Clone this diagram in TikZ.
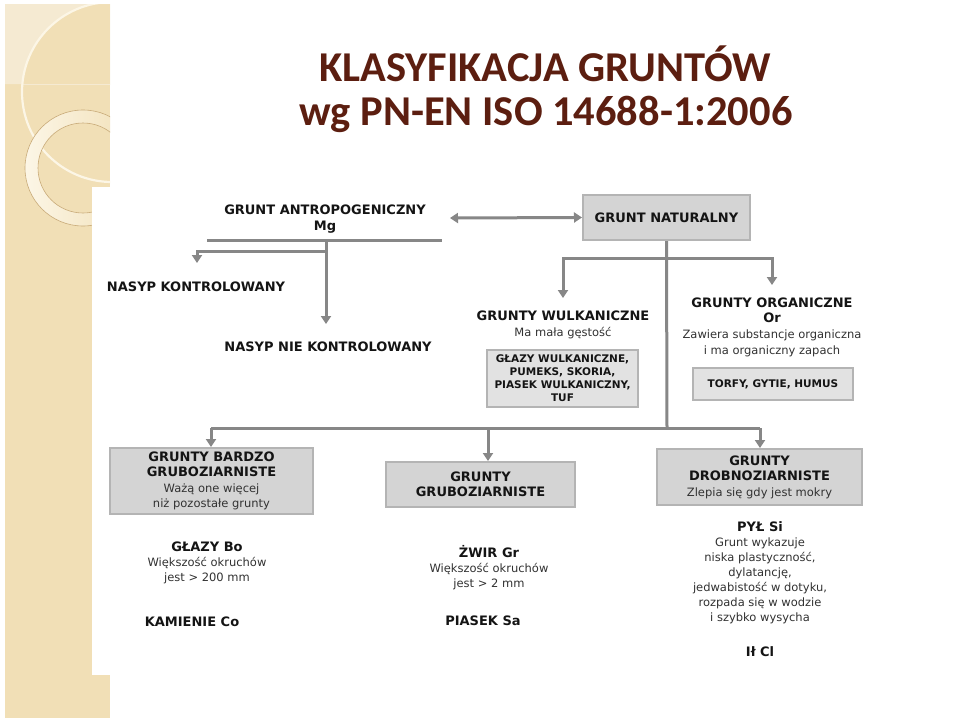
\documentclass[tikz,border=0pt]{standalone}
\usepackage{fontspec}
\setmainfont{DejaVu Sans}
\newfontfamily\titlefont{Carlito}
\usetikzlibrary{arrows.meta}
\definecolor{beige}{RGB}{241,223,182}
\definecolor{beigelight}{RGB}{245,234,210}
\definecolor{cream}{RGB}{252,246,230}
\definecolor{ringtan}{RGB}{200,170,120}
\definecolor{titlecol}{RGB}{92,30,16}
\definecolor{boxgray}{RGB}{212,212,212}
\definecolor{boxlight}{RGB}{226,226,226}
\definecolor{boxedge}{RGB}{180,180,180}
\definecolor{linegray}{RGB}{135,135,135}
\definecolor{textcol}{RGB}{20,20,20}
\definecolor{subcol}{RGB}{50,50,50}
\begin{document}
\begin{tikzpicture}[x=1pt,y=-1pt,
  titlestyle/.style={font=\titlefont\bfseries\fontsize{42.5}{44}\selectfont, text=titlecol, inner sep=0},
  txt/.style={align=center, inner sep=0, text=textcol, font=\fontsize{13}{15.5}\selectfont},
  smalltxt/.style={align=center, inner sep=0, text=textcol, font=\fontsize{10.5}{13}\selectfont},
  bigbox/.style={draw=boxedge, fill=boxgray, line width=2pt, inner sep=0},
  smallbox/.style={draw=boxedge, fill=boxlight, line width=2pt, inner sep=0},
  conn/.style={draw=linegray, line width=3pt},
  arr/.style={conn, -{Triangle[length=8pt,width=10pt]}},
  darr/.style={conn, {Triangle[length=8pt,width=10pt]}-{Triangle[length=8pt,width=10pt]}}
]
\useasboundingbox (0,0) rectangle (959,718);
\fill[white] (0,0) rectangle (959,718);
% decorative strip
\begin{scope}
  \clip (5,4) rectangle (110,718);
  \fill[beige] (5,4) rectangle (110,718);
  \begin{scope}
    \clip (5,4) rectangle (110,84);
    \fill[beigelight, even odd rule] (5,4) rectangle (110,84) (112,92) circle (90);
  \end{scope}
  \draw[cream, line width=2.2pt] (112,92) circle (90);
  \shade[even odd rule, left color=cream, right color=beige] (83,168) circle (58) (83,168) circle (45);
  \draw[ringtan, line width=0.6pt] (83,168) circle (58);
  \draw[ringtan, line width=0.6pt] (83,168) circle (45);
\end{scope}
\fill[white] (92,187) rectangle (111,675);

% title
\node[titlestyle, anchor=base] (t1) at (545,81) {KLASYFIKACJA GRUNTÓW};
\node[titlestyle, anchor=base] (t2) at (546,125) {wg PN-EN ISO 14688-1:2006};

% anthropogenic branch
\node[txt, font=\bfseries\fontsize{13}{15.5}\selectfont] (antr) at (325,219) {GRUNT ANTROPOGENICZNY\\Mg};
\coordinate (ul) at (207,240);
\coordinate (ur) at (442,240);
\coordinate (aj) at (326,240);
\coordinate (bj) at (326,251);
\coordinate (bl) at (197,251);
\draw[conn] (ul) -- (ur);
\node[txt, font=\bfseries\fontsize{13}{15.5}\selectfont] (nk) at (196,287) {NASYP KONTROLOWANY};
\node[txt, font=\bfseries\fontsize{13}{15.5}\selectfont] (nnk) at (328,347) {NASYP NIE KONTROLOWANY};
\draw[arr] (aj) -- (326,324);
\draw[arr] (bj) -- (bl) -- (197,263);

% natural
\node[bigbox, minimum width=167pt, minimum height=45pt, font=\bfseries\fontsize{13}{15.5}\selectfont, text=textcol] (nat) at (666.5,217.5) {GRUNT NATURALNY};
\coordinate (al) at (450,218);
\draw[darr] (al) -- (nat.west);

% upper branch
\coordinate (tj) at (667,258);
\coordinate (wl) at (563,258);
\coordinate (or) at (772,258);
\draw[conn] (nat.south) -- (667,428);
\draw[arr] (tj) -- (wl) -- (563,298);
\draw[arr] (tj) -- (or) -- (772,285);

\node[txt] (wul) at (563,325) {{\bfseries GRUNTY WULKANICZNE}\\{\color{subcol}\fontsize{11.5}{15.5}\selectfont Ma mała gęstość}};
\node[smallbox, minimum width=151pt, minimum height=57pt] (wulb) at (562.5,378.5) {};
\node[smalltxt, font=\bfseries\fontsize{10.5}{13}\selectfont] at (wulb) {GŁAZY WULKANICZNE,\\PUMEKS, SKORIA,\\PIASEK WULKANICZNY,\\TUF};

\node[txt, font=\fontsize{13}{15.7}\selectfont] (org) at (772,327) {{\bfseries GRUNTY ORGANICZNE}\\{\bfseries Or}\\{\color{subcol}\fontsize{11.5}{15.7}\selectfont Zawiera substancje organiczna}\\{\color{subcol}\fontsize{11.5}{15.7}\selectfont i ma organiczny zapach}};
\node[smallbox, minimum width=160pt, minimum height=32pt] (orgb) at (773,384) {};
\node[smalltxt, font=\bfseries\fontsize{10.5}{13}\selectfont] at (orgb) {TORFY, GYTIE, HUMUS};

% lower branch
\coordinate (hl) at (211,428);
\coordinate (hm) at (488,428);
\coordinate (hr) at (760,428);
\draw[conn] (hl) -- (hr);

\node[bigbox, minimum width=203pt, minimum height=66pt] (bg) at (211.5,481) {};
\node[txt] at (bg) {{\bfseries GRUNTY BARDZO}\\{\bfseries GRUBOZIARNISTE}\\{\color{subcol}\fontsize{11.5}{15}\selectfont Ważą one więcej}\\{\color{subcol}\fontsize{11.5}{15}\selectfont niż pozostałe grunty}};
\node[bigbox, minimum width=189pt, minimum height=45pt] (gg) at (480.5,484.5) {};
\node[txt] at (gg) {{\bfseries GRUNTY}\\{\bfseries GRUBOZIARNISTE}};
\node[bigbox, minimum width=205pt, minimum height=56pt] (dg) at (759.5,477) {};
\node[txt] at (dg) {{\bfseries GRUNTY}\\{\bfseries DROBNOZIARNISTE}\\{\color{subcol}\fontsize{11.5}{15}\selectfont Zlepia się gdy jest mokry}};

\draw[arr] (hl) -- (bg.north -| hl);
\draw[arr] (hm) -- (gg.north -| hm);
\draw[arr] (hr) -- (dg.north -| hr);

% bottom texts
\node[txt, font=\fontsize{13}{15}\selectfont] (glazy) at (207,563) {{\bfseries GŁAZY Bo}\\{\color{subcol}\fontsize{11.5}{15}\selectfont Większość okruchów}\\{\color{subcol}\fontsize{11.5}{15}\selectfont jest > 200 mm}};
\node[txt, font=\bfseries\fontsize{13}{15}\selectfont] (kam) at (192,622) {KAMIENIE Co};
\node[txt, font=\fontsize{13}{15}\selectfont] (zwir) at (489,568) {{\bfseries ŻWIR Gr}\\{\color{subcol}\fontsize{11.5}{15}\selectfont Większość okruchów}\\{\color{subcol}\fontsize{11.5}{15}\selectfont jest > 2 mm}};
\node[txt, font=\bfseries\fontsize{13}{15}\selectfont] (pias) at (483,621) {PIASEK Sa};
\node[txt, font=\fontsize{13}{15}\selectfont] (pyl) at (760,573) {{\bfseries PYŁ Si}\\{\color{subcol}\fontsize{11.5}{15}\selectfont Grunt wykazuje}\\{\color{subcol}\fontsize{11.5}{15}\selectfont niska plastyczność,}\\{\color{subcol}\fontsize{11.5}{15}\selectfont dylatancję,}\\{\color{subcol}\fontsize{11.5}{15}\selectfont jedwabistość w dotyku,}\\{\color{subcol}\fontsize{11.5}{15}\selectfont rozpada się w wodzie}\\{\color{subcol}\fontsize{11.5}{15}\selectfont i szybko wysycha}};
\node[txt, font=\bfseries\fontsize{13}{15}\selectfont] (il) at (760,652) {Ił Cl};
\end{tikzpicture}
\end{document}
